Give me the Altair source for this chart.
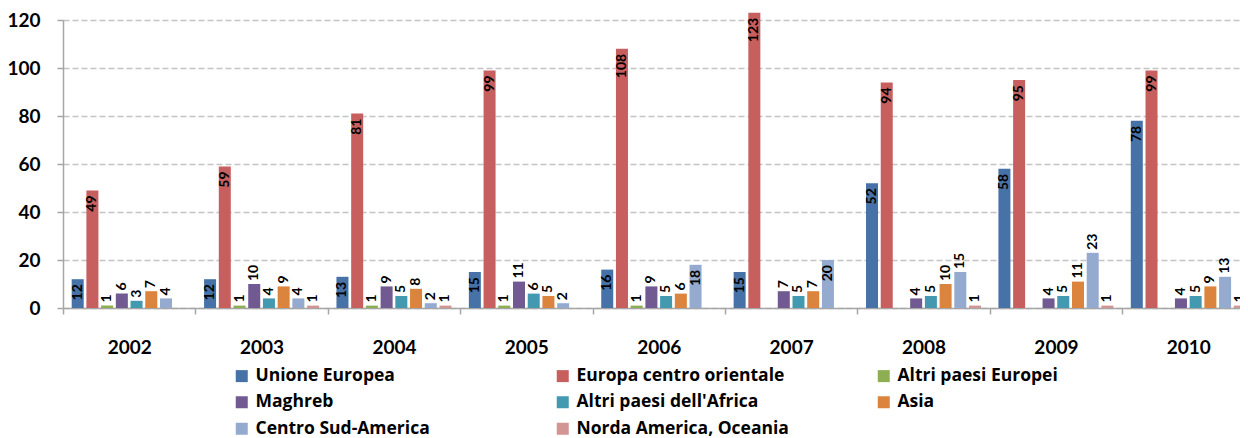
import altair as alt
import pandas as pd

years = ["2002", "2003", "2004", "2005", "2006", "2007", "2008", "2009", "2010"]
series = [
    "Unione Europea",
    "Europa centro orientale",
    "Altri paesi Europei",
    "Maghreb",
    "Altri paesi dell'Africa",
    "Asia",
    "Centro Sud-America",
    "Norda America, Oceania",
]
colors = ["#4672A8", "#C65F5E", "#8DAF51", "#715A91", "#4399B0", "#DB843D", "#94AACF", "#D39593"]

unione_europea = [12, 12, 13, 15, 16, 15, 52, 58, 78]
europa_centro_orientale = [49, 59, 81, 99, 108, 123, 94, 95, 99]
altri_paesi_europei = [1, 1, 1, 1, 1, None, None, None, None]
maghreb = [6, 10, 9, 11, 9, 7, 4, 4, 4]
altri_paesi_africa = [3, 4, 5, 6, 5, 5, 5, 5, 5]
asia = [7, 9, 8, 5, 6, 7, 10, 11, 9]
centro_sud_america = [4, 4, 2, 2, 18, 20, 15, 23, 13]
norda_america_oceania = [None, 1, 1, None, None, None, 1, 1, 1]

# which labels sit inside the bar end (the rest sit above the bar)
inside_series = ["Unione Europea", "Europa centro orientale"]
inside_points = [("2006", "Centro Sud-America"), ("2007", "Centro Sud-America")]

all_values = [unione_europea, europa_centro_orientale, altri_paesi_europei, maghreb,
              altri_paesi_africa, asia, centro_sud_america, norda_america_oceania]

rows = []
for s, vals in zip(series, all_values):
    for y, v in zip(years, vals):
        if v is None:
            continue
        rows.append({
            "year": y, "series": s, "value": v,
            "inside": (s in inside_series) or ((y, s) in inside_points),
        })
df = pd.DataFrame(rows)

FONT = "Lato"
LEGEND_FONT = "Open Sans"
AXIS_GRAY = "#A6A6A6"

x_enc = alt.X(
    "year:N", sort=years,
    scale=alt.Scale(range=[0, 1191.5], paddingInner=0, paddingOuter=0),
    axis=alt.Axis(title=None, labelAngle=0, labelFont=FONT, labelFontSize=19, labelFontWeight="bold",
                  labelColor="black", domainColor=AXIS_GRAY, domainWidth=1.5, tickColor=AXIS_GRAY,
                  tickWidth=1.5, tickSize=6, tickBand="extent", labelPadding=24, grid=False),
)
xo_enc = alt.XOffset("series:N", sort=series, scale=alt.Scale(paddingInner=0.184, paddingOuter=0.59))
y_enc = alt.Y(
    "value:Q",
    scale=alt.Scale(domain=[0, 120], nice=False),
    axis=alt.Axis(title=None, values=[0, 20, 40, 60, 80, 100, 120], labelFont=FONT, labelFontSize=19,
                  labelFontWeight="bold", labelColor="black", domainColor=AXIS_GRAY, domainWidth=1.5,
                  tickColor=AXIS_GRAY, tickWidth=1.5, tickSize=6, labelPadding=17, grid=True,
                  gridColor="#C4C4C4", gridDash=[6, 3], gridWidth=1.5),
)

base = alt.Chart(df).encode(x=x_enc, xOffset=xo_enc, y=y_enc)

bars = base.mark_bar().encode(
    color=alt.Color(
        "series:N", sort=series,
        scale=alt.Scale(domain=series, range=colors),
        legend=alt.Legend(
            title=None, orient="none", legendX=170, legendY=347, columns=3, direction="horizontal",
            gridAlign="all", columnPadding=86, rowPadding=7.5, padding=0,
            symbolType="square", symbolSize=144, symbolStrokeWidth=0, symbolOpacity=1,
            labelFont=LEGEND_FONT, labelFontSize=17.5, labelFontWeight="bold", labelColor="black",
            labelOffset=5, labelLimit=400,
        ),
    )
)

labels_in = base.transform_filter("datum.inside").mark_text(
    angle=270, align="right", baseline="middle", dx=-5,
    font=FONT, fontSize=14, fontWeight="bold", color="black",
).encode(text="value:Q")

labels_out = base.transform_filter("!datum.inside").mark_text(
    angle=270, align="left", baseline="middle", dx=3,
    font=FONT, fontSize=14, fontWeight="bold", color="black",
).encode(text="value:Q")

chart = (
    alt.layer(bars, labels_in, labels_out)
    .properties(width=1177, height=288, padding={"left": 55, "top": 12, "right": 0, "bottom": 130},
                autosize=alt.AutoSizeParams(type="none"))
    .configure_view(stroke=None)
)

chart.save("out.html", embed_options={"renderer": "svg", "actions": False})
